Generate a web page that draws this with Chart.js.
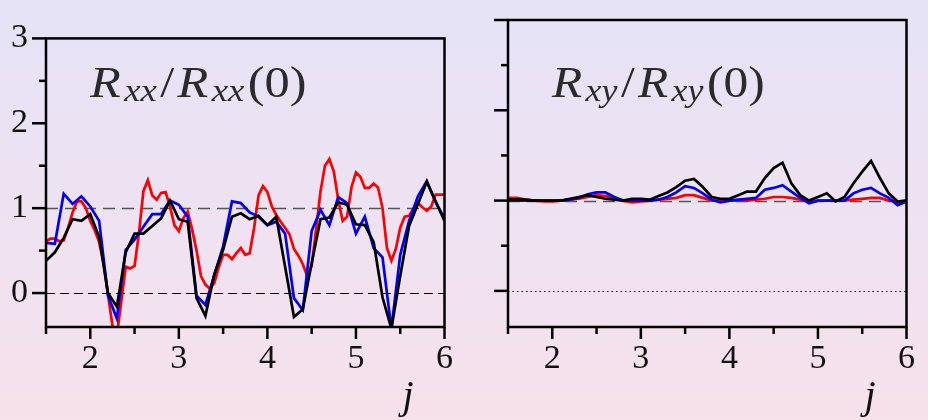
<!DOCTYPE html>
<html><head><meta charset="utf-8">
<script src="https://cdn.jsdelivr.net/npm/chart.js@4"></script>
<style>
html,body{margin:0;padding:0;width:928px;height:420px;overflow:hidden;
 background:linear-gradient(180deg,#e5e3f6 0%,#eee2f2 50%,#f7e1eb 100%);}
#wrap{position:relative;width:928px;height:420px;}
canvas{position:absolute;top:0;}
#cl{left:0;} #cr{left:462px;}
#pre{position:absolute;left:0;top:0;font-family:'Liberation Serif';font-size:34px;color:transparent;white-space:nowrap;}
</style></head>
<body>
<div id="pre">0123456 <i>Rxyj</i> /() <span style="font-size:44px">R(0)</span></div>
<div id="wrap"><canvas id="cl" width="465" height="420"></canvas><canvas id="cr" width="465" height="420"></canvas></div>
<script>
// ---- data ----
const jCoarse = [1.5,1.6,1.7,1.8,1.9,2.0,2.1,2.2,2.3,2.4,2.5,2.6,2.7,2.8,2.9,3.0,3.1,3.2,3.3,3.4,3.5,3.6,3.7,3.8,3.9,4.0,4.1,4.2,4.3,4.4,4.5,4.6,4.7,4.8,4.9,5.0,5.1,5.2,5.3,5.4,5.5,5.6,5.7,5.8,5.9,6.0];
const jFine = [1.50,1.55,1.60,1.65,1.70,1.75,1.80,1.85,1.90,1.95,
 2.00,2.05,2.10,2.15,2.20,2.25,2.30,2.35,2.40,2.45,
 2.50,2.55,2.60,2.65,2.70,2.75,2.80,2.85,2.90,2.95,
 3.00,3.05,3.10,3.15,3.20,3.25,3.30,3.35,3.40,3.45,
 3.50,3.55,3.60,3.65,3.70,3.75,3.80,3.85,3.90,3.95,
 4.00,4.05,4.10,4.15,4.20,4.25,4.30,4.35,4.40,4.45,
 4.50,4.55,4.60,4.65,4.70,4.75,4.80,4.85,4.90,4.95,
 5.00,5.05,5.10,5.15,5.20,5.25,5.30,5.35,5.40,5.45,
 5.50,5.55,5.60,5.65,5.70,5.75,5.80,5.85,5.90,5.95,6.00];
const rxxRed = [0.61,0.64,0.64,0.61,0.62,0.77,0.95,1.08,1.08,1.00,
 0.85,0.74,0.60,0.35,-0.02,-0.38,-0.50,-0.10,0.31,0.29,
 0.32,0.71,1.20,1.33,1.15,1.10,1.18,1.19,1.02,0.80,
 0.73,0.88,0.96,0.75,0.50,0.20,0.10,0.05,0.12,0.30,
 0.45,0.45,0.40,0.47,0.53,0.45,0.47,0.77,1.15,1.26,
 1.19,1.02,0.92,0.84,0.77,0.69,0.52,0.44,0.34,0.20,
 0.32,0.75,1.20,1.50,1.58,1.43,1.10,0.85,0.90,1.25,
 1.42,1.37,1.24,1.24,1.29,1.24,1.00,0.53,0.38,0.52,
 0.77,0.90,0.91,1.00,1.06,1.01,0.97,1.02,1.16,1.16,1.16];
const rxxBlue = [0.59,0.58,1.17,1.05,1.14,1.02,0.85,-0.03,-0.30,0.51,
 0.63,0.78,0.93,0.93,1.09,1.04,0.90,-0.03,-0.14,0.21,
 0.55,1.08,1.06,0.95,0.90,0.80,0.84,0.70,-0.06,-0.20,
 0.73,0.98,0.80,1.13,1.06,0.70,0.90,0.53,0.42,-0.42,
 0.45,0.85,1.14,1.32,1.07,0.88];
const rxxBlack = [0.38,0.48,0.65,0.87,0.85,0.93,0.66,0.00,-0.16,0.48,
 0.70,0.70,0.79,0.88,1.09,0.87,0.84,-0.06,-0.27,0.22,
 0.51,0.90,0.94,0.87,0.91,0.80,0.90,0.31,-0.28,-0.19,
 0.35,0.87,0.89,1.07,1.04,0.81,0.80,0.60,-0.05,-0.42,
 0.20,0.79,1.05,1.31,1.08,0.85];
const rxyRed = [1.03,1.03,1.01,1.00,0.99,0.99,1.00,1.01,1.02,1.04,
 1.06,1.05,1.03,1.00,0.98,0.99,1.00,1.01,1.02,1.03,
 1.06,1.06,1.03,1.00,1.00,1.00,1.00,1.00,1.01,1.02,
 1.04,1.04,1.03,1.01,0.99,1.00,1.00,1.00,1.00,1.01,
 1.02,1.03,1.03,1.00,0.99,1.00];
const rxyBlue = [1.00,1.00,1.00,1.00,1.00,1.00,1.00,1.01,1.03,1.07,
 1.09,1.09,1.04,1.00,1.00,1.00,1.00,1.01,1.04,1.09,
 1.16,1.14,1.08,1.01,0.98,1.00,1.01,1.02,1.03,1.12,
 1.14,1.17,1.10,1.03,0.97,1.00,1.00,1.00,1.00,1.08,
 1.12,1.14,1.08,1.03,0.95,0.99];
const rxyBlack = [1.01,1.01,1.01,1.00,1.00,1.00,1.00,1.02,1.04,1.06,
 1.04,1.02,1.01,1.00,1.02,1.02,1.01,1.05,1.09,1.15,
 1.22,1.24,1.15,1.04,1.02,1.02,1.06,1.10,1.10,1.25,
 1.36,1.42,1.19,1.06,1.00,1.04,1.08,0.99,1.04,1.19,
 1.32,1.44,1.25,1.08,0.99,1.00];
const xTickValues = [1.5,2,2.5,3,3.5,4,4.5,5,5.5,6];
const yTickValues = [0,0.5,1,1.5,2,2.5,3];

// ---- helpers ----
const pts = (xs, ys) => xs.map((x, i) => ({x, y: ys[i]}));
const SERIF = "'Liberation Serif'";

function drawMath(ctx, x0, base, sub, targetW) {
  const big = 44, small = 32;
  const parts = [
    {t:'R', f:`italic ${big}px ${SERIF}`, dy:0},
    {t:sub, f:`italic ${small}px ${SERIF}`, dy:4},
    {t:'/', f:`${big}px ${SERIF}`, dy:0},
    {t:'R', f:`italic ${big}px ${SERIF}`, dy:0},
    {t:sub, f:`italic ${small}px ${SERIF}`, dy:4},
    {t:'(0)', f:`${big}px ${SERIF}`, dy:0}
  ];
  let w = 0;
  parts.forEach(p => { ctx.font = p.f; p.w = ctx.measureText(p.t).width + 3; w += p.w; });
  ctx.save();
  ctx.translate(x0, base);
  ctx.scale(targetW / w, 1);
  ctx.fillStyle = '#2b2b2b';
  ctx.textBaseline = 'alphabetic';
  ctx.textAlign = 'left';
  let x = 0;
  parts.forEach(p => { ctx.font = p.f; ctx.fillText(p.t, x, p.dy); x += p.w; });
  ctx.restore();
}

const decor = {
  id: 'decor',
  beforeDatasetsDraw(chart, args, opts) {
    const {ctx, chartArea: a, scales: {x, y}} = chart;
    ctx.save();
    ctx.beginPath(); ctx.rect(a.left, a.top, a.right - a.left, a.bottom - a.top); ctx.clip();
    let p = Math.round(y.getPixelForValue(1)) + 0.5;
    ctx.strokeStyle = '#555'; ctx.lineWidth = 1.4; ctx.setLineDash([12, 7]);
    ctx.beginPath(); ctx.moveTo(a.left, p); ctx.lineTo(a.right, p); ctx.stroke();
    p = Math.round(y.getPixelForValue(0)) + 0.5;
    ctx.strokeStyle = '#000'; ctx.lineWidth = 1.2;
    ctx.setLineDash(opts.zeroDotted ? [1.5, 3] : [9, 5]);
    ctx.beginPath(); ctx.moveTo(a.left, p); ctx.lineTo(a.right, p); ctx.stroke();
    ctx.restore();
    drawMath(ctx, opts.textX, 97, opts.sub, opts.textW);
  },
  afterDraw(chart) {
    const {ctx, chartArea: a, scales: {x, y}} = chart;
    ctx.save();
    ctx.strokeStyle = '#000'; ctx.lineWidth = 2.5; ctx.setLineDash([]);
    ctx.strokeRect(a.left, a.top, a.right - a.left, a.bottom - a.top);
    x.ticks.forEach(t => {
      const px = x.getPixelForValue(t.value);
      const len = Number.isInteger(t.value) ? 12 : 7;
      ctx.beginPath(); ctx.moveTo(px, a.bottom); ctx.lineTo(px, a.bottom + len); ctx.stroke();
    });
    y.ticks.forEach(t => {
      const py = y.getPixelForValue(t.value);
      const len = Number.isInteger(t.value) ? 14 : 7;
      ctx.beginPath(); ctx.moveTo(a.left, py); ctx.lineTo(a.left - len, py); ctx.stroke();
    });
    ctx.fillStyle = '#111';
    ctx.font = `italic 40px ${SERIF}`;
    ctx.textAlign = 'center'; ctx.textBaseline = 'alphabetic';
    ctx.fillText('j', 408, 408);
    ctx.restore();
  }
};

function makeChart(id, red, blue, black, showYLabels, textX, textW, sub, zeroDotted) {
  return new Chart(document.getElementById(id), {
    type: 'line',
    data: {
      datasets: [
        {data: pts(jCoarse, black), borderColor: '#000', borderWidth: 2.7},
        {data: pts(jCoarse, blue), borderColor: '#0000ff', borderWidth: 2.7},
        {data: pts(red.length === jFine.length ? jFine : jCoarse, red), borderColor: '#ff0000', borderWidth: 2.7}
      ]
    },
    options: {
      responsive: false, animation: false, devicePixelRatio: 1,
      layout: {padding: {top: 20, right: 9, bottom: 0, left: 0}},
      elements: {point: {radius: 0}, line: {tension: 0}},
      plugins: {legend: {display: false}, tooltip: {enabled: false},
        decor: {textX, textW, sub, zeroDotted}},
      scales: {
        x: {
          type: 'linear', min: 1.5, max: 6,
          afterBuildTicks: s => { s.ticks = xTickValues.map(v => ({value: v})); },
          afterFit: s => { s.height = 93; },
          grid: {display: false, drawTicks: false},
          border: {display: false},
          ticks: {autoSkip: false, maxRotation: 0, padding: 12, color: '#111',
            font: {family: SERIF, size: 34},
            callback: v => Number.isInteger(v) ? String(v) : ''}
        },
        y: {
          type: 'linear', min: -0.4, max: 3,
          afterBuildTicks: s => { s.ticks = yTickValues.map(v => ({value: v})); },
          afterFit: s => { s.width = 46; },
          grid: {display: false, drawTicks: false},
          border: {display: false},
          ticks: {autoSkip: false, padding: 18, color: '#111', display: showYLabels,
            font: {family: SERIF, size: 34},
            callback: v => Number.isInteger(v) ? String(v) : ''}
        }
      }
    },
    plugins: [decor]
  });
}

void document.getElementById('pre').offsetWidth;
makeChart('cl', rxxRed, rxxBlue, rxxBlack, true, 90, 220, 'xx', false);
makeChart('cr', rxyRed, rxyBlue, rxyBlack, false, 90, 216, 'xy', true);
</script></body></html>
